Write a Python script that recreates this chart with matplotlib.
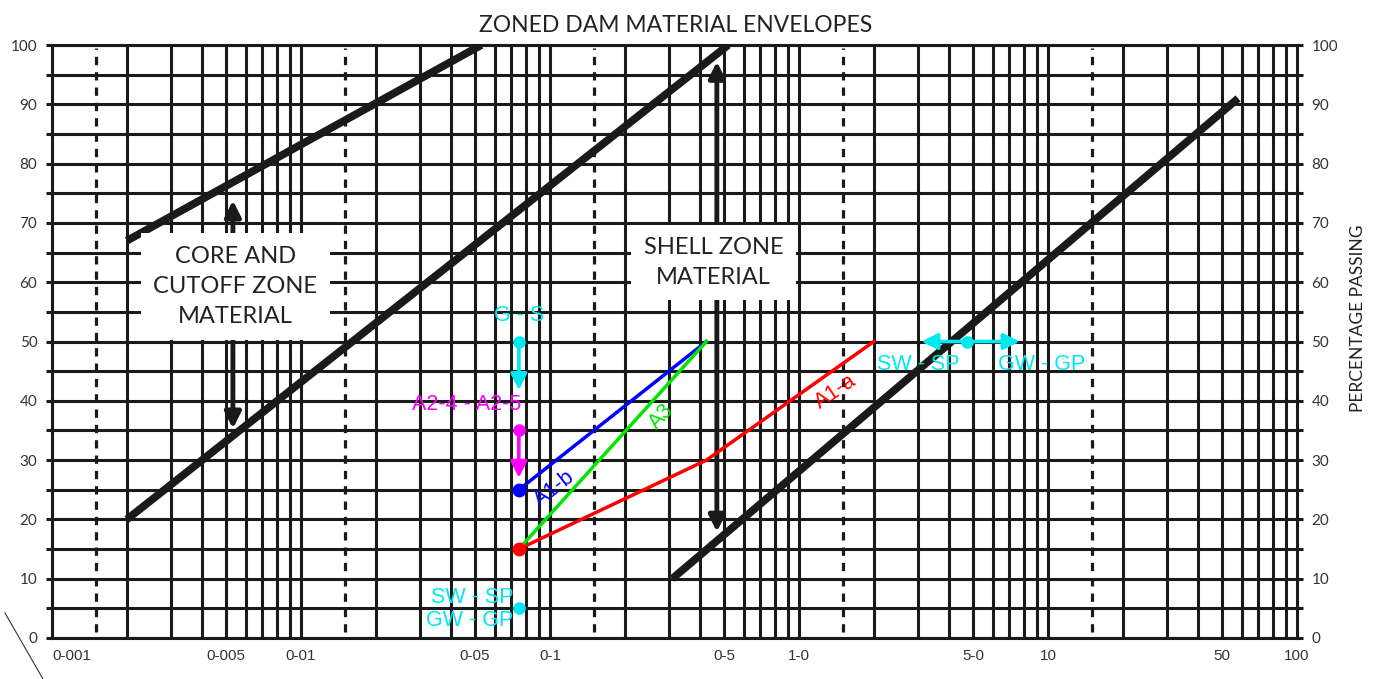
import numpy as np
import matplotlib
matplotlib.use("Agg")
import matplotlib.pyplot as plt
from matplotlib.lines import Line2D

# grain size (mm) axis ticks
tick_sizes = [0.001, 0.005, 0.01, 0.05, 0.1, 0.5, 1.0, 5.0, 10, 50, 100]
tick_labels = ['0-001', '0-005', '0-01', '0-05', '0-1', '0-5', '1-0', '5-0', '10', '50', '100']
decades = [0.001, 0.01, 0.1, 1, 10]

# zone envelope boundaries
env_x = [[0.002, 0.053], [0.002, 0.52], [0.31, 58]]
env_y = [[67, 100], [20, 100], [10, 91]]

# AASHTO group limits
a1a_x = [0.075, 0.425, 2.0]
a1a_y = [15, 30, 50]
a1b_x = [0.075, 0.425]
a1b_y = [25, 50]
a3_x = [0.075, 0.425]
a3_y = [15, 50]

# percent passing the No. 200 / No. 4 sieves
gs_point = (0.075, 50)
a2_point = (0.075, 35)
swgw_point = (0.075, 5)
no4_point = (4.75, 50)

ink = '#1a1a1a'
plt.rcParams['font.family'] = ['Lato', 'DejaVu Sans']

fig = plt.figure(figsize=(13.78, 6.79), dpi=100)
ax = fig.add_axes([0.0377, 0.0604, 0.9035, 0.8733])
ax.set_xscale('log')
ax.set_xlim(0.001, 100)
ax.set_ylim(0, 100)

# log grid: 1..9 in each decade, dashed at 1.5
minor = [d * k for d in decades for k in range(2, 10)]
ax.set_xticks(tick_sizes)
ax.set_xticklabels(tick_labels, family=['Liberation Sans'], fontsize=11, color='#333333')
ax.get_xticklabels()[0].set_horizontalalignment('left')
ax.set_xticks(minor, minor=True)
ax.xaxis.set_minor_formatter(matplotlib.ticker.NullFormatter())
ax.tick_params(axis='x', which='both', length=0, pad=8)
for d in decades:
    ax.axvline(d, color=ink, lw=2.2, zorder=1)
for m in minor:
    ax.axvline(m, color=ink, lw=2.2, zorder=1)
for d in decades:
    ax.axvline(1.5 * d, color=ink, lw=2.3, ymin=0.01, ymax=0.995,
               linestyle=(0, (2.6, 2.2)), zorder=1)

yt = np.arange(0, 101, 5)
ax.set_yticks(yt)
ax.set_yticklabels([str(v) if v % 10 == 0 else '' for v in yt])
for v in yt:
    ax.axhline(v, color=ink, lw=2.2, zorder=1)
ax.tick_params(axis='y', which='both', direction='out', length=4.5, width=2.2,
               color=ink, labelsize=11, labelcolor='#333333', pad=6,
               left=True, right=True, labelleft=True, labelright=True)
for sp in ax.spines.values():
    sp.set_linewidth(2.2)
    sp.set_color(ink)

# envelope lines
for xs, ys in zip(env_x, env_y):
    ax.plot(xs, ys, color=ink, lw=5.6, solid_capstyle='butt', zorder=4)

# zone arrows
ax.annotate('', xy=(0.00533, 73.8), xytext=(0.00533, 35.3),
            arrowprops=dict(arrowstyle='<|-|>', color=ink, lw=3.5,
                            mutation_scale=24, shrinkA=0, shrinkB=0), zorder=4)
ax.annotate('', xy=(0.468, 97.2), xytext=(0.468, 17.9),
            arrowprops=dict(arrowstyle='<|-|>', color=ink, lw=3.5,
                            mutation_scale=24, shrinkA=0, shrinkB=0), zorder=4)

box = dict(facecolor='white', edgecolor='none', pad=9)
ax.text(0.00545, 59.3, 'CORE AND\nCUTOFF ZONE\nMATERIAL', ha='center', va='center',
        fontsize=17, color='#222222', linespacing=1.55, bbox=box, zorder=6)
ax.text(0.455, 63.3, 'SHELL ZONE\nMATERIAL', ha='center', va='center',
        fontsize=17, color='#222222', linespacing=1.5, bbox=box, zorder=6)

# group lines
cfont = ['Liberation Sans']
cfs = 15.5
ax.plot(a1a_x, a1a_y, color='#ff0000', lw=2.5, zorder=5)
ax.plot(a1b_x, a1b_y, color='#0000ff', lw=2.5, zorder=5)
ax.plot(a3_x, a3_y, color='#00e600', lw=2.5, zorder=5)
ax.plot(a1b_x[0], a1b_y[0], 'o', color='#0000ff', ms=9, zorder=6)
ax.plot(a1a_x[0], a1a_y[0], 'o', color='#ff0000', ms=9, zorder=6)
ax.text(0.104, 25.2, 'A1-b', color='#0000ff', fontsize=cfs, family=cfont,
        rotation=38, rotation_mode='anchor', ha='center', va='center', zorder=6)
ax.text(0.28, 37.4, 'A3', color='#00e600', fontsize=cfs, family=cfont,
        rotation=48, rotation_mode='anchor', ha='center', va='center', zorder=6)
ax.text(1.40, 41.5, 'A1-a', color='#ff0000', fontsize=cfs, family=cfont,
        rotation=34, rotation_mode='anchor', ha='center', va='center', zorder=6)

# sieve markers
cyan = '#00e8f0'
magenta = '#ff00ff'
arrow_kw = dict(arrowstyle='-|>', lw=2.6, mutation_scale=24, shrinkA=0, shrinkB=0)
ax.plot(*gs_point, 'o', color=cyan, ms=8, zorder=6)
ax.annotate('', xy=(gs_point[0], 41.8), xytext=gs_point,
            arrowprops=dict(color=cyan, **arrow_kw), zorder=6)
ax.text(gs_point[0], 54.4, 'G - S', color=cyan, fontsize=cfs, family=cfont,
        ha='center', va='center', zorder=6)

ax.plot(*a2_point, 'o', color=magenta, ms=8, zorder=6)
ax.annotate('', xy=(a2_point[0], 27), xytext=a2_point,
            arrowprops=dict(color=magenta, **arrow_kw), zorder=6)
ax.text(0.077, 39.3, 'A2-4 - A2-5', color=magenta, fontsize=cfs, family=cfont,
        ha='right', va='center', zorder=6)

ax.plot(*swgw_point, 'o', color=cyan, ms=8, zorder=6)
ax.text(0.0715, 6.8, 'SW - SP', color=cyan, fontsize=cfs, family=cfont,
        ha='right', va='center', zorder=6)
ax.text(0.0715, 2.9, 'GW - GP', color=cyan, fontsize=cfs, family=cfont,
        ha='right', va='center', zorder=6)

ax.plot(*no4_point, 'o', color=cyan, ms=8, zorder=6)
ax.annotate('', xy=(3.1, 50), xytext=no4_point,
            arrowprops=dict(color=cyan, **arrow_kw), zorder=6)
ax.annotate('', xy=(7.7, 50), xytext=no4_point,
            arrowprops=dict(color=cyan, **arrow_kw), zorder=6)
ax.text(3.0, 46.1, 'SW - SP', color=cyan, fontsize=cfs, family=cfont,
        ha='center', va='center', zorder=6)
ax.text(9.4, 46.1, 'GW - GP', color=cyan, fontsize=cfs, family=cfont,
        ha='center', va='center', zorder=6)

fig.text(0.49, 0.963, 'ZONED DAM MATERIAL ENVELOPES', ha='center', va='center',
         fontsize=16.5, color='#222222')
fig.text(0.9855, 0.532, 'PERCENTAGE PASSING', rotation=90, ha='center', va='center',
         fontsize=12.5, color='#222222')

fig.add_artist(Line2D([5 / 1378, 43 / 1378], [1 - 613 / 679, 0], lw=0.8, color='#333333'))

fig.savefig('out.png', dpi=100)
